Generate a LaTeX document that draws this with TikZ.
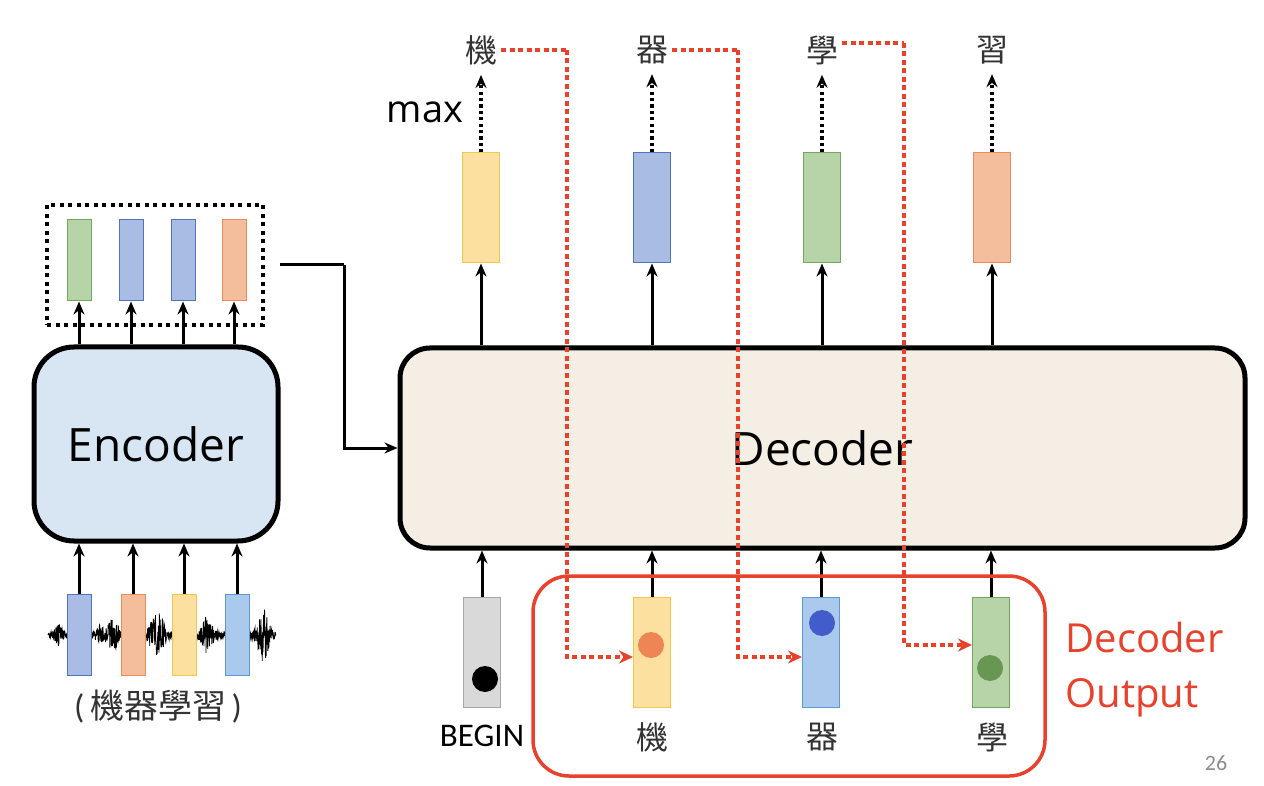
\documentclass[tikz,border=0pt]{standalone}
\usepackage{fontspec}
\setmainfont{Carlito}
\newfontfamily\cjk{Noto Sans CJK TC}
\newfontfamily\uifont{Open Sans}
\usetikzlibrary{arrows.meta,calc}
\definecolor{redc}{HTML}{E8412C}
\definecolor{yelF}{HTML}{FBE0A0}\definecolor{yelD}{HTML}{F5C64A}
\definecolor{bluF}{HTML}{A9BCE4}\definecolor{bluD}{HTML}{5273BE}
\definecolor{grnF}{HTML}{B7D4A8}\definecolor{grnD}{HTML}{72A85C}
\definecolor{orgF}{HTML}{F4BD9C}\definecolor{orgD}{HTML}{EC8C58}
\definecolor{lblF}{HTML}{ABC9EC}\definecolor{lblD}{HTML}{5B9BD5}
\definecolor{gryF}{HTML}{D9D9D9}\definecolor{gryD}{HTML}{A6A6A6}
\definecolor{encF}{HTML}{D8E6F4}
\definecolor{decF}{HTML}{F4EEE5}
\tikzset{
  vecs/.style={draw, line width=1pt, minimum width=24pt, minimum height=81pt, inner sep=0pt},
  vecb/.style={draw, line width=1pt, minimum width=37pt, minimum height=110pt, inner sep=0pt},
  arr/.style={line width=3pt, -{Stealth[length=13pt,width=11pt]}},
  dotarr/.style={line width=3.2pt, dash pattern=on 3.2pt off 3.2pt, -{Stealth[length=13pt,width=11pt]}},
  reddot/.style={redc, line width=4pt, dash pattern=on 5pt off 3.5pt},
  redarr/.style={reddot, -{Stealth[length=14pt,width=13pt]}},
  big/.style={draw, line width=5pt},
  cj/.style={font=\cjk\fontsize{32}{34}\selectfont, text=black!80, inner sep=4pt},
  dot/.style={circle, minimum size=26pt, inner sep=0pt},
}
\begin{document}
\begin{tikzpicture}[x=1pt,y=-1pt,
  declare function={env(\x)=3+10*exp(-((\x-58)/4)^2)+8*exp(-((\x-100)/4)^2)+14*exp(-((\x-113)/6)^2)+24*exp(-((\x-157)/7)^2)+16*exp(-((\x-207)/6)^2)+26*exp(-((\x-263)/6)^2);}]
\useasboundingbox (0,0) rectangle (1264,786);
\fill[white] (0,0) rectangle (1264,786);

% ---------- Encoder side ----------
\node[draw, line width=4pt, dash pattern=on 4pt off 4.5pt, minimum width=216pt, minimum height=120pt, inner sep=0pt] (eo) at (155,265) {};
\node[vecs, fill=grnF, draw=grnD] (e1) at (79,260.5) {};
\node[vecs, fill=bluF, draw=bluD] (e2) at (131,260.5) {};
\node[vecs, fill=bluF, draw=bluD] (e3) at (183,260.5) {};
\node[vecs, fill=orgF, draw=orgD] (e4) at (234,260.5) {};

\node[big, fill=encF, minimum width=244pt, minimum height=194pt, rounded corners=40pt, font=\uifont\fontsize{46}{50}\selectfont] (enc) at (156,444) {Encoder};

\foreach \i in {1,...,4} \draw[arr] (enc.north -| e\i) -- (e\i.south);

% waveform
\pgfmathsetseed{11}
\draw[line width=0.8pt] plot[domain=48:276, samples=900] (\x,{635+env(\x)*rand});

\node[vecs, fill=bluF, draw=bluD] (i1) at (79,634.5) {};
\node[vecs, fill=orgF, draw=orgD] (i2) at (133,634.5) {};
\node[vecs, fill=yelF, draw=yelD] (i3) at (184,634.5) {};
\node[vecs, fill=lblF, draw=lblD] (i4) at (237,634.5) {};
\foreach \i in {1,...,4} \draw[arr] (i\i.north) -- (enc.south -| i\i);

\node[font=\fontsize{34}{36}\selectfont, text=black!80] (inlab) at (158,707) {(\,{\cjk 機器學習}\,)};

% ---------- Decoder ----------
\node[big, fill=decF, minimum width=845pt, minimum height=200pt, rounded corners=30pt, font=\uifont\fontsize{46}{50}\selectfont] (dec) at (822.5,448) {Decoder};

\draw[line width=3pt] ([xshift=15pt]eo.east) -- ++(64,0) coordinate (bend);
\draw[arr] (bend) |- (dec.west);

% top vectors
\node[vecb, fill=yelF, draw=yelD] (o1) at (481,208) {};
\node[vecb, fill=bluF, draw=bluD] (o2) at (652,208) {};
\node[vecb, fill=grnF, draw=grnD] (o3) at (822,208) {};
\node[vecb, fill=orgF, draw=orgD] (o4) at (992,208) {};
\foreach \i in {1,...,4} \draw[arr] (dec.north -| o\i) -- (o\i.south);

\node[cj] (t1) at (481,50) {機};
\node[cj] (t2) at (652,50) {器};
\node[cj] (t3) at (822,50) {學};
\node[cj] (t4) at (992,50) {習};
\foreach \i in {1,...,4} \draw[dotarr, shorten >=6pt] (o\i.north) -- (t\i.south);
\node[font=\uifont\fontsize{38}{40}\selectfont] (max) at (425,112) {max};

% bottom vectors
\node[vecb, fill=gryF, draw=gryD] (b1) at (482,652) {};
\node[vecb, fill=yelF, draw=yelD] (b2) at (652,652) {};
\node[vecb, fill=lblF, draw=lblD] (b3) at (821,652) {};
\node[vecb, fill=grnF, draw=grnD] (b4) at (991,652) {};
\foreach \i in {1,...,4} \draw[arr] (b\i.north) -- (dec.south -| b\i);

\node[dot, fill=black] (d1) at (485,679) {};
\node[dot, fill=orgD!95!red] (d2) at (651,645) {};
\node[dot, fill=bluD!80!blue] (d3) at (822,623) {};
\node[dot, fill=grnD!90!black] (d4) at (990,668) {};

\node[font=\fontsize{33}{36}\selectfont] (begin) at (482,736) {BEGIN};
\node[cj] (l2) at (652,737) {機};
\node[cj] (l3) at (822,737) {器};
\node[cj] (l4) at (992,737) {學};

% red box
\node[draw=redc, line width=3.5pt, rounded corners=36pt, minimum width=512pt, minimum height=200pt, inner sep=0pt] (rb) at (789,676) {};
\node[text=redc, font=\uifont\fontsize{40}{55}\selectfont, align=left, anchor=west] (dout) at (1062,670) {Decoder\\Output};

% red dotted feedback
\draw[reddot] (t1.east) -- ++(66,0) coordinate (r1);
\draw[redarr] (r1) |- ([yshift=-5pt]b2.west);
\draw[reddot] (t2.east) -- ++(66,0) coordinate (r2);
\draw[redarr] (r2) |- ([yshift=-5pt]b3.west);
\draw[reddot] ([yshift=7pt]t3.east) -- ++(62,0) coordinate (r3);
\draw[redarr] (r3) |- ([yshift=7pt]b4.west);

\node[text=black!45, font=\fontsize{22}{24}\selectfont] (pg) at (1216,763) {26};
\end{tikzpicture}
\end{document}
